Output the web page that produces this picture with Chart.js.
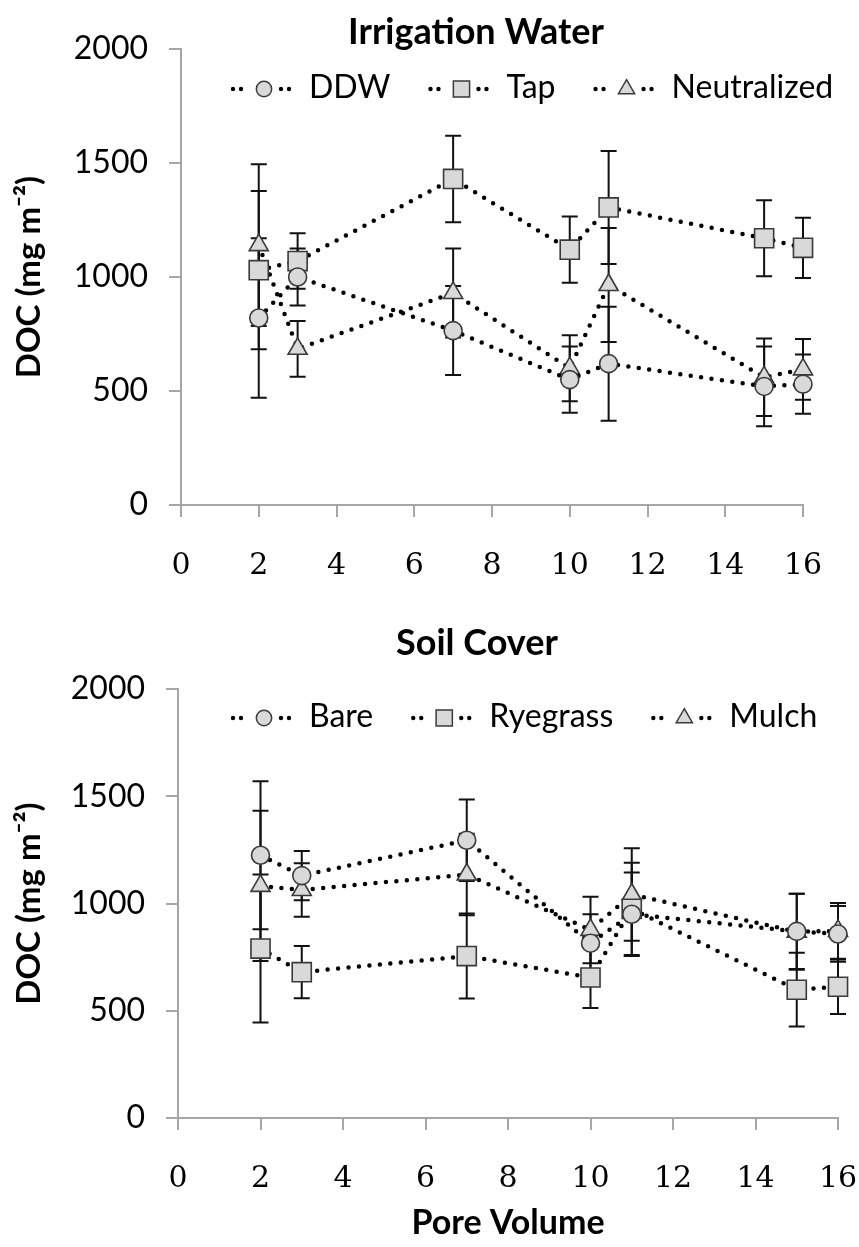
<!DOCTYPE html>
<html>
<head>
<meta charset="utf-8">
<script src="https://cdn.jsdelivr.net/npm/chart.js@4.4.0/dist/chart.umd.min.js"></script>
<style>
  html, body { margin: 0; padding: 0; background: #fff; overflow: hidden; }
  .box { position: absolute; left: 0; width: 859px; }
  #topBox { top: 0; height: 600px; }
  #bottomBox { top: 600px; height: 647px; }
</style>
</head>
<body>
<div class="box" id="topBox"><canvas id="chartTop"></canvas></div>
<div class="box" id="bottomBox"><canvas id="chartBottom"></canvas></div>
<script>
// pore volumes sampled
const poreVolume = [2, 3, 7, 10, 11, 15, 16];

// Irrigation Water (DOC, mg m-2) and error bars
const ddw = [820, 1000, 765, 550, 620, 520, 530];
const ddwErr = [350, 125, 195, 145, 250, 175, 130];
const tap = [1030, 1070, 1430, 1120, 1305, 1170, 1128];
const tapErr = [347, 122, 190, 145, 248, 167, 132];
const neutralized = [1140, 685, 930, 600, 965, 560, 595];
const neutralizedErr = [355, 122, 195, 145, 250, 170, 133];

// Soil Cover
const bare = [1225, 1130, 1295, 815, 950, 870, 858];
const bareErr = [345, 115, 190, 135, 195, 175, 130];
const ryegrass = [790, 680, 755, 655, 975, 598, 612];
const ryegrassErr = [345, 122, 198, 142, 215, 172, 127];
const mulch = [1082, 1063, 1135, 877, 1042, 868, 872];
const mulchErr = [350, 125, 190, 155, 216, 177, 130];

const xTicks = [0, 2, 4, 6, 8, 10, 12, 14, 16];
const yTicks = [0, 500, 1000, 1500, 2000];

const axisGrey = '#a6a6a6';
const markerFill = '#d9d9d9';
const markerEdge = '#3a3a3a';

function series(label, values, errors, style, radius) {
  return {
    label,
    data: values.map((v, i) => ({ x: poreVolume[i], y: v })),
    errors,
    clip: false,
    borderColor: '#000',
    borderWidth: 4.5,
    borderDash: [0, 10.5],
    borderCapStyle: 'round',
    pointStyle: style,
    pointRadius: radius,
    pointHoverRadius: radius,
    pointBackgroundColor: markerFill,
    pointBorderColor: markerEdge,
    pointBorderWidth: 1.6,
    tension: 0
  };
}

// vertical error bars with caps
const errorBars = {
  id: 'errorBars',
  beforeDatasetsDraw(chart) {
    const { ctx, scales: { x, y } } = chart;
    ctx.save();
    ctx.strokeStyle = '#111';
    ctx.lineWidth = 2;
    chart.data.datasets.forEach(ds => {
      ds.data.forEach((p, i) => {
        const e = ds.errors[i];
        const px = x.getPixelForValue(p.x);
        const top = y.getPixelForValue(p.y + e);
        const bot = y.getPixelForValue(p.y - e);
        ctx.beginPath();
        ctx.moveTo(px, top); ctx.lineTo(px, bot);
        ctx.moveTo(px - 8, top); ctx.lineTo(px + 8, top);
        ctx.moveTo(px - 8, bot); ctx.lineTo(px + 8, bot);
        ctx.stroke();
      });
    });
    ctx.restore();
  }
};

// title plus an in-plot legend with dotted line samples
const header = {
  id: 'header',
  afterDraw(chart, args, opts) {
    const ctx = chart.ctx;
    ctx.save();
    ctx.fillStyle = '#000';
    ctx.textBaseline = 'middle';
    ctx.textAlign = 'center';
    ctx.font = 'bold 36px Lato';
    ctx.fillText(opts.title, opts.titleX, opts.titleY);

    ctx.font = '32px Lato';
    ctx.textAlign = 'left';
    let x = opts.legendX;
    const y = opts.legendY;
    chart.data.datasets.forEach(ds => {
      const mx = x + 33;
      ctx.fillStyle = '#000';
      [-31, -23, 17, 25].forEach(dx => {
        ctx.beginPath();
        ctx.arc(mx + dx, y + 1, 2.2, 0, Math.PI * 2);
        ctx.fill();
      });
      ctx.fillStyle = markerFill;
      ctx.strokeStyle = markerEdge;
      ctx.lineWidth = 1.5;
      Chart.helpers.drawPoint(ctx, {
        pointStyle: ds.pointStyle,
        radius: ds.pointRadius * 0.85,
        rotation: 0,
        borderWidth: 1.5
      }, mx, y + 1);
      ctx.fillStyle = '#000';
      const tx = mx + 45;
      ctx.fillText(ds.label, tx, y);
      x = tx + ctx.measureText(ds.label).width + 38;
    });
    ctx.restore();
  }
};

function makeChart(id, datasets, cfg) {
  return new Chart(document.getElementById(id), {
    type: 'line',
    data: { datasets },
    plugins: [errorBars, header],
    options: {
      responsive: true,
      maintainAspectRatio: false,
      animation: false,
      devicePixelRatio: 1,
      layout: { padding: { left: 10, right: cfg.padRight, top: cfg.padTop, bottom: 0 } },
      plugins: {
        legend: { display: false },
        tooltip: { enabled: false },
        header: cfg.header
      },
      scales: {
        x: {
          type: 'linear',
          min: 0, max: 16,
          afterBuildTicks: s => { s.ticks = xTicks.map(v => ({ value: v })); },
          afterFit: s => { s.height = cfg.xHeight; s.paddingLeft = 0; s.paddingRight = 0; },
          ticks: { color: '#000', padding: 31, font: { family: 'DejaVu Serif', size: 30 }, callback: v => String(v) },
          grid: { drawOnChartArea: false, drawTicks: true, tickLength: 12, color: axisGrey, lineWidth: 2 },
          border: { color: axisGrey, width: 2 },
          title: cfg.xTitle
            ? { display: true, text: cfg.xTitle, color: '#000', font: { family: 'Lato', size: 34, weight: 'bold' }, padding: { top: 0, bottom: 4 } }
            : { display: false }
        },
        y: {
          min: 0, max: 2000,
          afterBuildTicks: s => { s.ticks = yTicks.map(v => ({ value: v })); },
          afterFit: s => { s.width = cfg.yWidth; },
          ticks: { color: '#000', padding: 21, font: { family: 'Lato', size: 32 }, callback: v => String(v) },
          grid: { drawOnChartArea: false, drawTicks: true, tickLength: 12, color: axisGrey, lineWidth: 2 },
          border: { color: axisGrey, width: 2 },
          title: { display: true, text: 'DOC (mg m⁻²)', color: '#000', font: { family: 'Lato', size: 33, weight: 'bold' }, padding: 0 }
        }
      }
    }
  });
}

makeChart('chartTop', [
  series('DDW', ddw, ddwErr, 'circle', 9),
  series('Tap', tap, tapErr, 'rect', 13.5),
  series('Neutralized', neutralized, neutralizedErr, 'triangle', 11)
], {
  padRight: 56, padTop: 49, xHeight: 95, yWidth: 171,
  header: { title: 'Irrigation Water', titleX: 476, titleY: 32, legendX: 231, legendY: 88 }
});

makeChart('chartBottom', [
  series('Bare', bare, bareErr, 'circle', 9),
  series('Ryegrass', ryegrass, ryegrassErr, 'rect', 13.5),
  series('Mulch', mulch, mulchErr, 'triangle', 11)
], {
  padRight: 21, padTop: 89, xHeight: 129, yWidth: 168, xTitle: 'Pore Volume',
  header: { title: 'Soil Cover', titleX: 477, titleY: 43, legendX: 231, legendY: 117 }
});
</script>
</body>
</html>
